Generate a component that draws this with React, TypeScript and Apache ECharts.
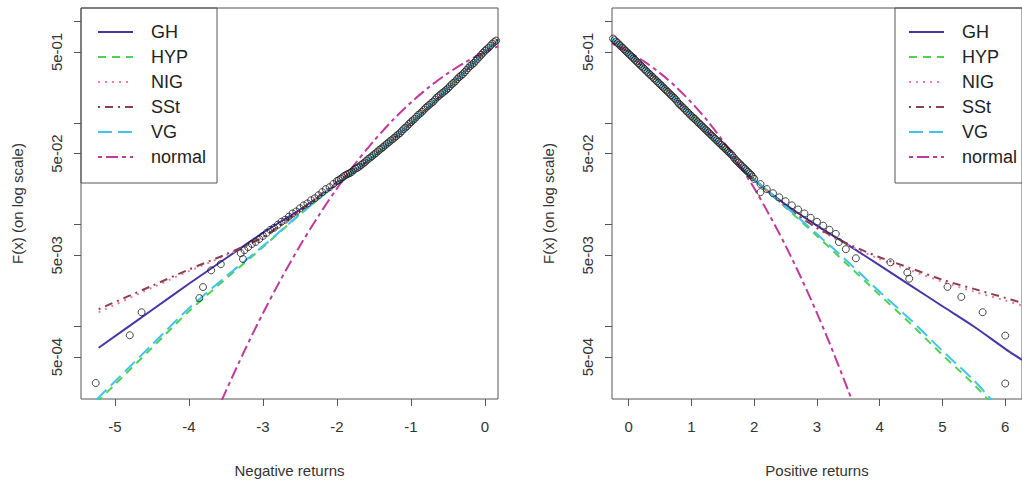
import React, { useEffect, useRef } from "react";
import * as echarts from "echarts";

const FONT = '"Liberation Sans", Arial, Helvetica, sans-serif';

// ---------- axis ticks ----------
const xTicksNeg = [-5, -4, -3, -2, -1, 0];
const xTicksPos = [0, 1, 2, 3, 4, 5, 6];
const yTicks = [1, 0.5, 0.1, 0.05, 0.01, 0.005, 0.001, 0.0005];
const yTickLabels = [0.5, 0.05, 0.005, 0.0005];

// ---------- Negative returns panel ----------
const negEmpirical: number[][] = [
  [-5.26, 2.78e-4], [-4.8, 8.2e-4], [-4.64, 1.38e-3], [-3.86, 1.9e-3], [-3.81, 2.44e-3],
  [-3.7, 3.56e-3], [-3.57, 4.1e-3], [-3.27, 4.6e-3],
  [-3.3, 5.25e-3], [-3.25, 5.62e-3], [-3.2, 6.03e-3], [-3.15, 6.46e-3], [-3.1, 6.76e-3],
  [-3.05, 7.24e-3], [-3.0, 7.76e-3], [-2.95, 8.32e-3], [-2.9, 8.91e-3], [-2.85, 9.33e-3],
  [-2.8, 1.0e-2], [-2.75, 1.07e-2], [-2.7, 1.12e-2], [-2.65, 1.2e-2], [-2.6, 1.29e-2],
  [-2.55, 1.35e-2], [-2.5, 1.45e-2], [-2.45, 1.55e-2], [-2.4, 1.62e-2], [-2.35, 1.74e-2],
  [-2.3, 1.82e-2], [-2.25, 1.95e-2], [-2.2, 2.09e-2], [-2.15, 2.24e-2], [-2.1, 2.34e-2],
  [-2.05, 2.51e-2], [-2.0, 2.69e-2], [-1.95, 2.82e-2], [-1.9, 3.02e-2], [-1.85, 3.16e-2],
  [-1.8, 3.31e-2], [-1.75, 3.55e-2], [-1.7, 3.72e-2], [-1.65, 3.98e-2], [-1.6, 4.27e-2],
  [-1.55, 4.57e-2], [-1.5, 4.9e-2], [-1.45, 5.25e-2], [-1.4, 5.62e-2], [-1.35, 6.03e-2],
  [-1.3, 6.46e-2], [-1.25, 6.92e-2], [-1.2, 7.41e-2], [-1.15, 7.94e-2], [-1.1, 8.71e-2],
  [-1.05, 9.33e-2], [-1.0, 0.102], [-0.95, 0.11], [-0.9, 0.12], [-0.85, 0.129],
  [-0.8, 0.141], [-0.75, 0.151], [-0.7, 0.162], [-0.65, 0.178], [-0.6, 0.191],
  [-0.55, 0.204], [-0.5, 0.219], [-0.45, 0.24], [-0.4, 0.257], [-0.35, 0.282],
  [-0.3, 0.302], [-0.25, 0.331], [-0.2, 0.363], [-0.15, 0.389], [-0.1, 0.427],
  [-0.05, 0.468], [0.0, 0.513], [0.05, 0.55], [0.1, 0.603], [0.15, 0.646],
  [-1.975, 2.75e-2], [-1.925, 2.93e-2], [-1.875, 3.1e-2], [-1.825, 3.22e-2], [-1.775, 3.45e-2],
  [-1.725, 3.62e-2], [-1.675, 3.86e-2], [-1.625, 4.1e-2], [-1.575, 4.43e-2], [-1.525, 4.72e-2],
  [-1.475, 5.05e-2], [-1.425, 5.45e-2], [-1.375, 5.8e-2], [-1.325, 6.25e-2], [-1.275, 6.7e-2],
  [-1.225, 7.15e-2], [-1.175, 7.7e-2], [-1.125, 8.3e-2], [-1.075, 9.0e-2], [-1.025, 9.8e-2],
  [-0.975, 0.106], [-0.925, 0.115], [-0.875, 0.124], [-0.825, 0.135], [-0.775, 0.146],
  [-0.725, 0.157], [-0.675, 0.17], [-0.625, 0.184], [-0.575, 0.197], [-0.525, 0.211],
  [-0.475, 0.229], [-0.425, 0.248], [-0.375, 0.27], [-0.325, 0.292], [-0.275, 0.316],
  [-0.225, 0.347], [-0.175, 0.376], [-0.125, 0.408], [-0.075, 0.447], [-0.025, 0.49],
  [0.025, 0.531], [0.075, 0.576], [0.125, 0.624],
];
const negGH: number[][] = [
  [-5.22, 6.17e-4], [-4.5, 1.45e-3], [-4.0, 2.63e-3], [-3.5, 4.68e-3], [-3.0, 8.32e-3],
  [-2.5, 1.41e-2], [-2.0, 2.51e-2], [-1.5, 4.79e-2], [-1.0, 0.1], [-0.5, 0.219],
  [0.0, 0.501], [0.18, 0.661],
];
const negHYP: number[][] = [
  [-5.25, 1.78e-4], [-5.0, 2.69e-4], [-4.5, 6.17e-4], [-4.0, 1.41e-3], [-3.5, 2.95e-3],
  [-3.0, 6.03e-3], [-2.5, 1.26e-2], [-2.0, 2.51e-2], [-1.5, 4.79e-2], [-1.0, 0.1],
  [-0.5, 0.219], [0.0, 0.501], [0.18, 0.661],
];
const negNIG: number[][] = [
  [-5.22, 1.38e-3], [-4.5, 2.4e-3], [-4.0, 3.5e-3], [-3.5, 5.0e-3], [-3.0, 7.5e-3],
  [-2.5, 1.37e-2], [-2.0, 2.6e-2], [-1.5, 4.79e-2], [-1.0, 0.1], [-0.5, 0.219],
  [0.0, 0.501], [0.18, 0.661],
];
const negSSt: number[][] = [
  [-5.22, 1.48e-3], [-4.5, 2.51e-3], [-4.0, 3.63e-3], [-3.5, 5.13e-3], [-3.0, 7.59e-3],
  [-2.5, 1.38e-2], [-2.0, 2.63e-2], [-1.5, 4.79e-2], [-1.0, 0.1], [-0.5, 0.219],
  [0.0, 0.501], [0.18, 0.661],
];
const negVG: number[][] = [
  [-5.25, 1.91e-4], [-5.0, 2.88e-4], [-4.5, 6.61e-4], [-4.0, 1.51e-3], [-3.5, 3.09e-3],
  [-3.0, 6.17e-3], [-2.5, 1.27e-2], [-2.0, 2.51e-2], [-1.5, 4.79e-2], [-1.0, 0.1],
  [-0.5, 0.219], [0.0, 0.501], [0.18, 0.661],
];
const negNormal: number[][] = [
  [-3.6, 1.59e-4], [-3.5, 2.33e-4], [-3.25, 5.77e-4], [-3.0, 1.35e-3], [-2.75, 2.98e-3],
  [-2.5, 6.21e-3], [-2.25, 1.22e-2], [-2.0, 2.28e-2], [-1.75, 4.01e-2], [-1.5, 6.68e-2],
  [-1.25, 0.106], [-1.0, 0.159], [-0.75, 0.227], [-0.5, 0.309], [-0.25, 0.401],
  [0.0, 0.5], [0.18, 0.567],
];

// ---------- Positive returns panel ----------
const posEmpirical: number[][] = [
  [-0.25, 0.676], [-0.2, 0.631], [-0.15, 0.589], [-0.1, 0.55], [-0.05, 0.513],
  [0.0, 0.479], [0.05, 0.447], [0.1, 0.417], [0.15, 0.389], [0.2, 0.363],
  [0.25, 0.339], [0.3, 0.316], [0.35, 0.295], [0.4, 0.275], [0.45, 0.257],
  [0.5, 0.24], [0.55, 0.224], [0.6, 0.209], [0.65, 0.195], [0.7, 0.182],
  [0.75, 0.17], [0.8, 0.155], [0.85, 0.145], [0.9, 0.135], [0.95, 0.126],
  [1.0, 0.117], [1.05, 0.11], [1.1, 0.102], [1.15, 0.0955], [1.2, 0.0891],
  [1.25, 0.0832], [1.3, 0.0776], [1.35, 0.0724], [1.4, 0.0676], [1.45, 0.0631],
  [1.5, 0.0589], [1.55, 0.055], [1.6, 0.0513], [1.65, 0.0479], [1.7, 0.0437],
  [1.75, 0.0407], [1.8, 0.038], [1.85, 0.0355], [1.9, 0.0331], [1.95, 0.0309],
  [2.0, 0.0282], [2.1, 0.0251], [2.1, 0.0209], [2.2, 0.0224], [2.3, 0.0204],
  [2.4, 0.0186], [2.5, 0.017], [2.6, 0.0155], [2.7, 0.0141], [2.8, 0.0129],
  [2.9, 0.0117], [3.0, 0.0107], [3.1, 0.00977], [3.2, 0.00891], [3.3, 0.00813],
  [3.35, 0.00676], [3.46, 0.00575], [3.62, 4.68e-3], [4.17, 4.27e-3], [4.44, 3.39e-3],
  [4.47, 2.95e-3], [5.08, 2.45e-3], [5.3, 1.95e-3], [5.64, 1.38e-3], [6.0, 8.13e-4],
  [6.0, 2.75e-4],
  [-0.225, 0.652], [-0.175, 0.61], [-0.125, 0.569], [-0.075, 0.531], [-0.025, 0.496],
  [0.025, 0.463], [0.075, 0.432], [0.125, 0.403], [0.175, 0.376], [0.225, 0.351],
  [0.275, 0.327], [0.325, 0.305], [0.375, 0.285], [0.425, 0.266], [0.475, 0.248],
  [0.525, 0.232], [0.575, 0.216], [0.625, 0.202], [0.675, 0.188], [0.725, 0.176],
  [0.775, 0.162], [0.825, 0.15], [0.875, 0.14], [0.925, 0.13], [0.975, 0.121],
  [1.025, 0.113], [1.075, 0.106], [1.125, 0.0988], [1.175, 0.0922], [1.225, 0.0861],
  [1.275, 0.0804], [1.325, 0.075], [1.375, 0.07], [1.425, 0.0653], [1.475, 0.061],
  [1.525, 0.057], [1.575, 0.0531], [1.625, 0.0496], [1.675, 0.0457], [1.725, 0.0422],
  [1.775, 0.0393], [1.825, 0.0367], [1.875, 0.0343], [1.925, 0.032], [1.975, 0.0295],
];
const posGH: number[][] = [
  [-0.27, 0.686], [0.0, 0.48], [0.5, 0.245], [1.0, 0.118], [1.5, 0.0575],
  [2.0, 0.0275], [2.5, 0.0158], [3.0, 0.0098], [3.5, 0.0063], [4.0, 0.00398],
  [4.5, 0.00251], [5.0, 0.00158], [5.5, 0.001], [6.0, 6.03e-4], [6.27, 4.68e-4],
];
const posHYP: number[][] = [
  [-0.27, 0.686], [0.0, 0.479], [0.5, 0.245], [1.0, 0.118], [1.5, 0.0575],
  [2.0, 0.0282], [2.5, 0.0148], [3.0, 0.00776], [3.5, 0.00398], [4.0, 0.00204],
  [4.5, 0.00105], [5.0, 5.25e-4], [5.5, 2.69e-4], [5.8, 1.7e-4],
];
const posNIG: number[][] = [
  [-0.27, 0.686], [0.0, 0.479], [0.5, 0.245], [1.0, 0.118], [1.5, 0.0575],
  [2.0, 0.0282], [2.5, 0.015], [3.0, 0.0092], [3.5, 0.0063], [4.0, 0.0046],
  [4.5, 0.00355], [5.0, 0.00275], [5.5, 0.0022], [6.0, 0.0018], [6.27, 0.0016],
];
const posSSt: number[][] = [
  [-0.27, 0.686], [0.0, 0.479], [0.5, 0.245], [1.0, 0.118], [1.5, 0.0575],
  [2.0, 0.0282], [2.5, 0.0151], [3.0, 0.00933], [3.5, 0.00646], [4.0, 0.00479],
  [4.5, 0.00372], [5.0, 0.00288], [5.5, 0.00234], [6.0, 0.00191], [6.27, 0.0017],
];
const posVG: number[][] = [
  [-0.27, 0.686], [0.0, 0.479], [0.5, 0.245], [1.0, 0.118], [1.5, 0.0575],
  [2.0, 0.0282], [2.5, 0.0151], [3.0, 0.0081], [3.5, 0.00427], [4.0, 0.00219],
  [4.5, 0.00115], [5.0, 5.75e-4], [5.5, 2.95e-4], [5.85, 1.7e-4],
];
const posNormal: number[][] = [
  [-0.27, 0.606], [0.0, 0.5], [0.25, 0.401], [0.5, 0.309], [0.75, 0.227],
  [1.0, 0.159], [1.25, 0.106], [1.5, 0.0668], [1.75, 0.0401], [2.0, 0.0228],
  [2.25, 0.0122], [2.5, 0.00621], [2.75, 0.00298], [3.0, 0.00135], [3.25, 5.77e-4],
  [3.5, 2.33e-4], [3.6, 1.59e-4],
];

const modelNames = ["GH", "HYP", "NIG", "SSt", "VG", "normal"];
const modelColors = ["#4536a8", "#4fd34f", "#f47c9a", "#8b4050", "#3fc4ee", "#c2389c"];
const modelDash: any[] = ["solid", [8, 6], [2, 5], [2, 5, 8, 5], [14, 6], [4, 4, 12, 4]];
const negModels = [negGH, negHYP, negNIG, negSSt, negVG, negNormal];
const posModels = [posGH, posHYP, posNIG, posSSt, posVG, posNormal];

const expLabel = (v: number) =>
  Number(v).toExponential(0).replace(/e([+-])(\d)$/, "e$10$2");

function makeX(idx: number, min: number, max: number, ticks: number[], name: string) {
  return {
    type: "value",
    gridIndex: idx,
    min,
    max,
    name,
    nameLocation: "middle",
    nameGap: 64,
    nameTextStyle: { fontFamily: FONT, fontSize: 15, color: "#333" },
    axisLine: { show: false, onZero: false },
    splitLine: { show: false },
    axisTick: { show: true, length: 7, customValues: ticks, lineStyle: { color: "#555" } },
    axisLabel: {
      customValues: ticks,
      margin: 20,
      fontFamily: FONT,
      fontSize: 15,
      color: "#333",
      formatter: (v: number) => String(v),
    },
  };
}

function makeY(idx: number) {
  return {
    type: "log",
    logBase: 10,
    gridIndex: idx,
    min: 1.936e-4,
    max: 1.35,
    name: "F(x) (on log scale)",
    nameLocation: "middle",
    nameGap: 56,
    nameTextStyle: { fontFamily: FONT, fontSize: 15, color: "#333" },
    axisLine: { show: false, onZero: false },
    splitLine: { show: false },
    axisTick: { show: true, length: 7, customValues: yTicks, lineStyle: { color: "#555" } },
    axisLabel: {
      customValues: yTickLabels,
      rotate: 90,
      margin: 17,
      fontFamily: FONT,
      fontSize: 15,
      color: "#333",
      formatter: expLabel,
    },
  };
}

function makeLegend(left: number, padLeft: number, padRight: number) {
  return {
    show: true,
    orient: "vertical",
    left,
    top: 8,
    data: modelNames,
    borderColor: "#555",
    borderWidth: 1,
    borderRadius: 0,
    padding: [15, padRight, 17, padLeft],
    itemWidth: 35,
    itemHeight: 14,
    itemGap: 7,
    selectedMode: false,
    itemStyle: { color: "rgba(0,0,0,0)", borderWidth: 0, opacity: 0 },
    textStyle: {
      fontFamily: FONT,
      fontSize: 18,
      lineHeight: 18,
      color: "#222",
      padding: [0, 0, 0, 13],
    },
  };
}

function panelSeries(idx: number, models: number[][][], emp: number[][]) {
  const lines = models.map((d, i) => ({
    type: "line",
    name: modelNames[i],
    xAxisIndex: idx,
    yAxisIndex: idx,
    data: d,
    symbol: "none",
    smooth: 0.3,
    clip: true,
    lineStyle: { color: modelColors[i], width: 2, type: modelDash[i] },
    itemStyle: { color: modelColors[i] },
    z: 2,
  }));
  const pts = {
    type: "scatter",
    name: "empirical",
    xAxisIndex: idx,
    yAxisIndex: idx,
    data: emp,
    symbol: "circle",
    symbolSize: 7,
    itemStyle: { color: "rgba(0,0,0,0)", borderColor: "#1a1a1a", borderWidth: 1 },
    z: 3,
  };
  return [...lines, pts];
}

export default function App() {
  const ref = useRef<HTMLDivElement>(null);
  useEffect(() => {
    const chart = echarts.init(ref.current as HTMLDivElement, null, { renderer: "svg" });
    const option: any = {
      animation: false,
      backgroundColor: "#fff",
      textStyle: { fontFamily: FONT },
      grid: [
        { left: 81, top: 8, width: 417, height: 392, show: true, borderColor: "#555", borderWidth: 1, backgroundColor: "transparent" },
        { left: 612, top: 8, width: 417, height: 392, show: true, borderColor: "#555", borderWidth: 1, backgroundColor: "transparent" },
      ],
      xAxis: [
        makeX(0, -5.459, 0.176, xTicksNeg, "Negative returns"),
        makeX(1, -0.266, 6.267, xTicksPos, "Positive returns"),
      ],
      yAxis: [makeY(0), makeY(1)],
      legend: [makeLegend(81, 16, 11), makeLegend(895, 13, 13)],
      series: [...panelSeries(0, negModels, negEmpirical), ...panelSeries(1, posModels, posEmpirical)],
    };
    chart.setOption(option);
    return () => chart.dispose();
  }, []);
  return (
    <div
      ref={ref}
      style={{ position: "fixed", left: 0, top: 0, width: 1022, height: 483, background: "#fff" }}
    />
  );
}
